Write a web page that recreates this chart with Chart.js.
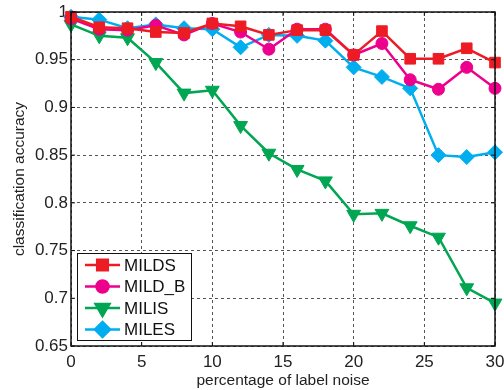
<!DOCTYPE html>
<html>
<head>
<meta charset="utf-8">
<script src="https://cdn.jsdelivr.net/npm/chart.js@4/dist/chart.umd.min.js"></script>
<style>
  html, body { margin: 0; padding: 0; background: #fff; }
  #wrap { width: 504px; height: 390px; position: relative; }
</style>
</head>
<body>
<div id="wrap"><canvas id="chart"></canvas></div>
<script>
// label noise (%) on the x axis
const noiseLevels = [0, 2, 4, 6, 8, 10, 12, 14, 16, 18, 20, 22, 24, 26, 28, 30];

// accuracy per method
const mildsAcc  = [0.995, 0.984, 0.983, 0.979, 0.978, 0.988, 0.985, 0.976, 0.981, 0.981, 0.955, 0.980, 0.951, 0.951, 0.962, 0.947];
const mildBAcc  = [0.993, 0.982, 0.981, 0.986, 0.976, 0.988, 0.979, 0.961, 0.982, 0.982, 0.955, 0.967, 0.929, 0.919, 0.942, 0.920];
const milisAcc  = [0.987, 0.975, 0.973, 0.947, 0.915, 0.918, 0.881, 0.852, 0.835, 0.823, 0.788, 0.789, 0.776, 0.764, 0.711, 0.695];
const milesAcc  = [0.995, 0.992, 0.983, 0.987, 0.983, 0.982, 0.963, 0.976, 0.975, 0.970, 0.942, 0.932, 0.920, 0.850, 0.848, 0.853];

const xTicks = [0, 5, 10, 15, 20, 25, 30];
const yTicks = [0.65, 0.7, 0.75, 0.8, 0.85, 0.9, 0.95, 1];

const FONT = 'Arial, "Liberation Sans", Helvetica, sans-serif';

function series(label, values, color, style, radius, rotation) {
    return {
        label: label,
        data: noiseLevels.map((x, i) => ({ x: x, y: values[i] })),
        borderColor: color,
        backgroundColor: color,
        borderWidth: 2.5,
        pointStyle: style,
        pointRadius: radius,
        pointHoverRadius: radius,
        pointRotation: rotation || 0,
        pointBorderWidth: 1,
        pointBackgroundColor: color,
        pointBorderColor: color,
        tension: 0,
        clip: false
    };
}

// solid box round the plot plus MATLAB-style inward ticks
const frame = {
    id: 'frame',
    afterDraw(chart) {
        const { ctx, chartArea: a, scales } = chart;
        ctx.save();
        ctx.strokeStyle = '#111';
        ctx.lineWidth = 1;
        xTicks.forEach(v => {
            const px = scales.x.getPixelForValue(v);
            ctx.beginPath();
            ctx.moveTo(px, a.bottom); ctx.lineTo(px, a.bottom - 4);
            ctx.moveTo(px, a.top); ctx.lineTo(px, a.top + 4);
            ctx.stroke();
        });
        yTicks.forEach(v => {
            const py = scales.y.getPixelForValue(v);
            ctx.beginPath();
            ctx.moveTo(a.left, py); ctx.lineTo(a.left + 4, py);
            ctx.moveTo(a.right, py); ctx.lineTo(a.right - 4, py);
            ctx.stroke();
        });
        ctx.lineWidth = 1.5;
        ctx.strokeRect(a.left, a.top, a.right - a.left, a.bottom - a.top);
        ctx.restore();
    }
};

// legend box inside the lower-left corner
const insetLegend = {
    id: 'insetLegend',
    afterDraw(chart) {
        const { ctx, chartArea: a } = chart;
        const sets = chart.data.datasets;
        const boxL = a.left + 6, boxB = a.bottom - 6;
        const boxW = 114, rowH = 21.5, boxH = 87;
        const boxT = boxB - boxH;
        ctx.save();
        ctx.fillStyle = '#fff';
        ctx.fillRect(boxL, boxT, boxW, boxH);
        ctx.strokeStyle = '#111';
        ctx.lineWidth = 1;
        ctx.strokeRect(boxL + 0.5, boxT + 0.5, boxW, boxH);
        ctx.font = '17px ' + FONT;
        ctx.textBaseline = 'middle';
        sets.forEach((ds, i) => {
            const y = boxT + 12 + i * rowH;
            ctx.strokeStyle = ds.borderColor;
            ctx.lineWidth = ds.borderWidth;
            ctx.beginPath();
            ctx.moveTo(boxL + 8, y);
            ctx.lineTo(boxL + 43, y);
            ctx.stroke();
            ctx.fillStyle = ds.borderColor;
            Chart.helpers.drawPoint(ctx, {
                pointStyle: ds.pointStyle,
                radius: ds.pointRadius,
                rotation: ds.pointRotation,
                borderWidth: 1
            }, boxL + 25.5, y);
            ctx.fillStyle = '#111';
            ctx.fillText(ds.label, boxL + 47, y + 1);
        });
        ctx.restore();
    }
};

new Chart(document.getElementById('chart'), {
    type: 'line',
    data: {
        datasets: [
            series('MILDS', mildsAcc, '#ED1C24', 'rect', 7.5),
            series('MILD_B', mildBAcc, '#EC008C', 'circle', 6),
            series('MILIS', milisAcc, '#00A651', 'triangle', 8, 180),
            series('MILES', milesAcc, '#00AEEF', 'rectRot', 7.5)
        ]
    },
    options: {
        responsive: true,
        maintainAspectRatio: false,
        animation: false,
        events: [],
        layout: { padding: { left: 0, right: 5, top: 12, bottom: 0 } },
        plugins: {
            legend: { display: false },
            tooltip: { enabled: false }
        },
        scales: {
            x: {
                type: 'linear',
                min: 0,
                max: 30,
                afterBuildTicks: s => { s.ticks = xTicks.map(v => ({ value: v })); },
                afterFit: s => { s.height = 44; s.paddingLeft = 0; s.paddingRight = 0; },
                grid: { color: '#555', lineWidth: 1, drawTicks: false },
                border: { display: false, dash: [3, 3] },
                ticks: { color: '#222', padding: 6, maxRotation: 0, font: { family: FONT, size: 17 } },
                title: {
                    display: true,
                    text: 'percentage of label noise',
                    color: '#222',
                    padding: { top: 0, bottom: 0 },
                    font: { family: FONT, size: 15.5 }
                }
            },
            y: {
                type: 'linear',
                min: 0.65,
                max: 1,
                afterBuildTicks: s => { s.ticks = yTicks.map(v => ({ value: v })); },
                afterFit: s => { s.width = 71; s.paddingTop = 0; s.paddingBottom = 0; },
                grid: { color: '#555', lineWidth: 1, drawTicks: false },
                border: { display: false, dash: [3, 3] },
                ticks: {
                    color: '#222',
                    padding: 3,
                    font: { family: FONT, size: 17 },
                    callback: v => String(Number(v.toFixed(2)))
                },
                title: {
                    display: true,
                    text: 'classification accuracy',
                    color: '#222',
                    padding: { top: 10, bottom: 0 },
                    font: { family: FONT, size: 15.5 }
                }
            }
        }
    },
    plugins: [frame, insetLegend]
});
</script>
</body>
</html>
